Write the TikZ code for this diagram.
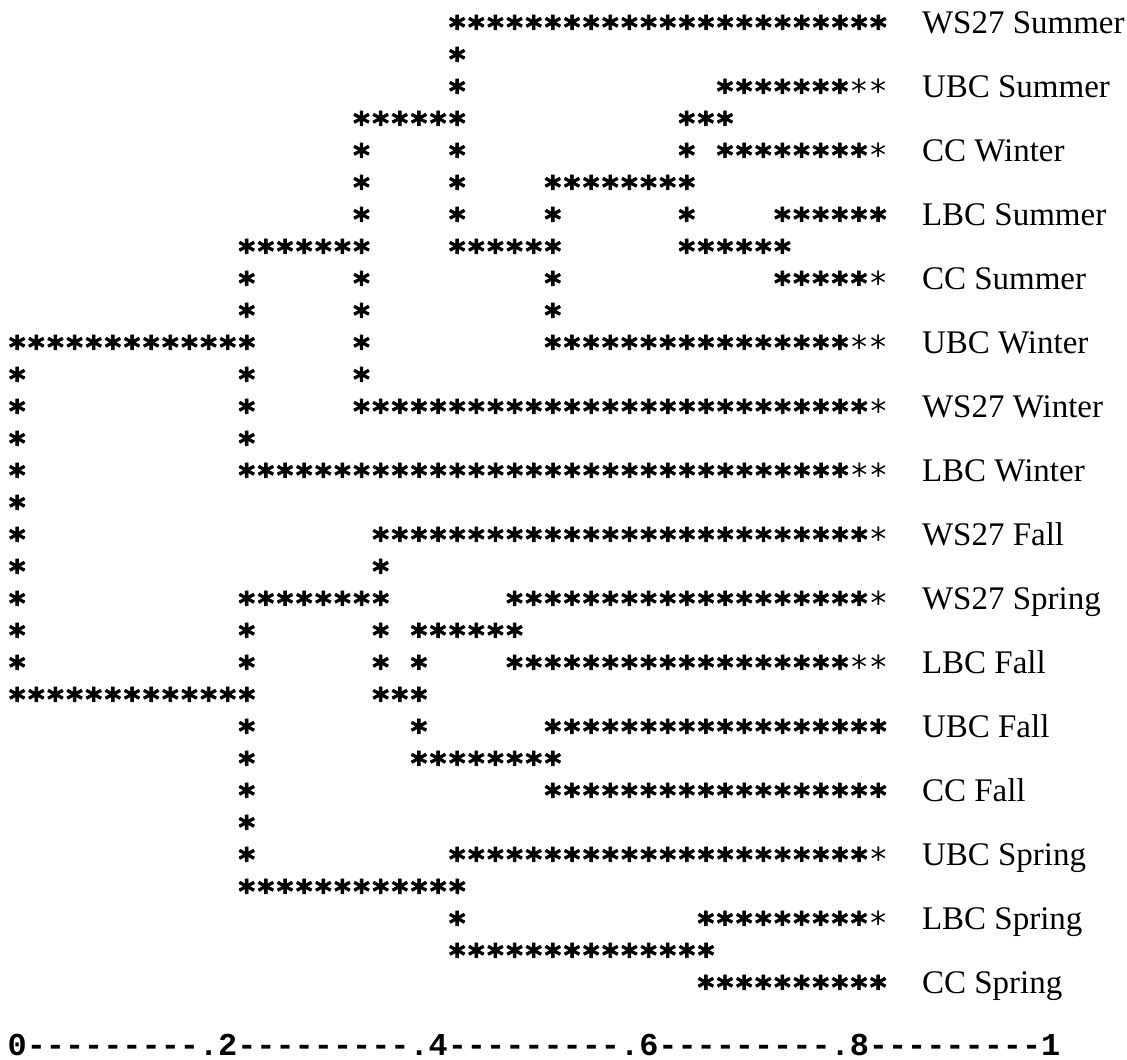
\documentclass[tikz,border=0pt]{standalone}
\usepackage{fontspec}
\setmainfont{Liberation Serif}
\setmonofont{Liberation Mono}
\newfontfamily\starfont{DejaVu Sans Mono}[BoldFeatures={FakeBold=2.5}]
\newcommand\rstar[1]{\ifnum#1>0 *\expandafter\rstar\expandafter{\number\numexpr#1-1\relax}\fi}
\begin{document}
\begin{tikzpicture}[x=1pt,y=-1pt,
  seg/.style={anchor=base west,inner sep=0pt,outer sep=0pt,font={\starfont\fontsize{31.8}{32}\selectfont}},
  lab/.style={anchor=base west,inner sep=0pt,outer sep=0pt,font={\fontsize{33}{36}\selectfont}},
  axislab/.style={anchor=base west,inner sep=0pt,outer sep=0pt,font={\ttfamily\bfseries\fontsize{31.9}{32}\selectfont}}]
\fill[white] (0,0) rectangle (1127,1060);
\useasboundingbox (0,0) rectangle (1127,1060);
\foreach \r/\c/\nb/\nl in {
  1/23/23/0,
  2/23/1/0,
  3/23/1/0, 3/37/7/2,
  4/18/6/0, 4/35/3/0,
  5/18/1/0, 5/23/1/0, 5/35/1/0, 5/37/8/1,
  6/18/1/0, 6/23/1/0, 6/28/8/0,
  7/18/1/0, 7/23/1/0, 7/28/1/0, 7/35/1/0, 7/40/6/0,
  8/12/7/0, 8/23/6/0, 8/35/6/0,
  9/12/1/0, 9/18/1/0, 9/28/1/0, 9/40/5/1,
  10/12/1/0, 10/18/1/0, 10/28/1/0,
  11/0/13/0, 11/18/1/0, 11/28/16/2,
  12/0/1/0, 12/12/1/0, 12/18/1/0,
  13/0/1/0, 13/12/1/0, 13/18/27/1,
  14/0/1/0, 14/12/1/0,
  15/0/1/0, 15/12/32/2,
  16/0/1/0,
  17/0/1/0, 17/19/26/1,
  18/0/1/0, 18/19/1/0,
  19/0/1/0, 19/12/8/0, 19/26/19/1,
  20/0/1/0, 20/12/1/0, 20/19/1/0, 20/21/6/0,
  21/0/1/0, 21/12/1/0, 21/19/1/0, 21/21/1/0, 21/26/18/2,
  22/0/13/0, 22/19/3/0,
  23/12/1/0, 23/21/1/0, 23/28/18/0,
  24/12/1/0, 24/21/8/0,
  25/12/1/0, 25/28/18/0,
  26/12/1/0,
  27/12/1/0, 27/23/22/1,
  28/12/12/0,
  29/23/1/0, 29/36/9/1,
  30/23/14/0,
  31/36/10/0}
  {\node[seg] (s\r-\c) at ({7.635+19.13*\c},{21+32*(\r-1)+17.5}) {{\bfseries\rstar{\nb}}\rstar{\nl}};}
\foreach \r/\t in {1/WS27 Summer, 3/UBC Summer, 5/CC Winter, 7/LBC Summer,
  9/CC Summer, 11/UBC Winter, 13/WS27 Winter, 15/LBC Winter, 17/WS27 Fall,
  19/WS27 Spring, 21/LBC Fall, 23/UBC Fall, 25/CC Fall, 27/UBC Spring,
  29/LBC Spring, 31/CC Spring}
  {\node[lab] (l\r) at (922,{21+32*(\r-1)+12}) {\t};}
\node[axislab] (axis) at (7.635,1055) {0---------.2---------.4---------.6---------.8---------1};
\end{tikzpicture}
\end{document}
